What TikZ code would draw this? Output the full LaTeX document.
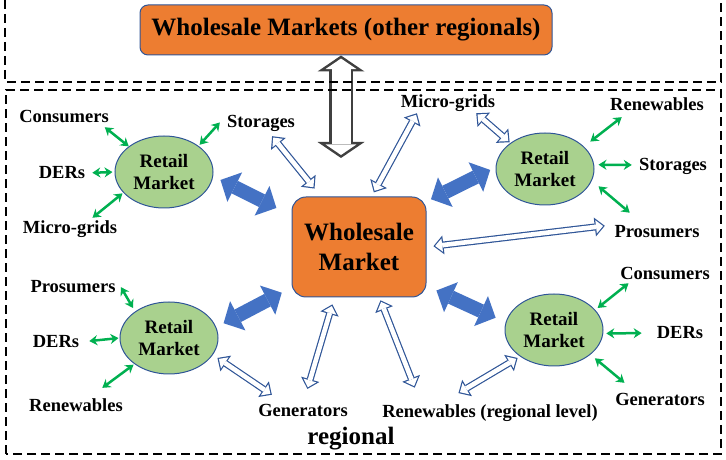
\documentclass[tikz,border=0pt]{standalone}
\usepackage{fontspec}
\setmainfont{Liberation Serif}
\usetikzlibrary{shapes.geometric,arrows.meta}

\definecolor{orangeboite}{HTML}{ED7D31}
\definecolor{bleufonce}{HTML}{2F5597}
\definecolor{bleu}{HTML}{4472C4}
\definecolor{vertclair}{HTML}{A9D18E}
\definecolor{vertfleche}{HTML}{00B050}
\definecolor{gris}{HTML}{404040}

% Flèche creuse : contour bleu puis intérieur blanc
\newcommand{\flechecreuse}[4]{%
  \pgfmathsetmacro\raccA{#3+1.74}\pgfmathsetmacro\raccB{#4+1.74}
  \draw[creuse, shorten <=#3pt, shorten >=#4pt] (#1) -- (#2);
  \draw[creuseint, shorten <=\raccA pt, shorten >=\raccB pt] (#1) -- (#2);
}

\begin{document}
\begin{tikzpicture}[x=1pt, y=1pt,
    cadre/.style={line width=1.8pt, dash pattern=on 9pt off 5pt},
    boite/.style={draw=bleufonce, line width=1pt, fill=orangeboite, rounded corners=8pt, font=\bfseries\fontsize{25}{30}\selectfont},
    marche/.style={ellipse, draw=bleufonce, line width=1pt, fill=vertclair, minimum width=98pt, minimum height=72pt, inner sep=0pt, align=center, font=\bfseries\fontsize{19}{22}\selectfont},
    acteur/.style={font=\bfseries\fontsize{18.5}{22}\selectfont, inner sep=1pt, text height=12pt, text depth=0pt},
    epaisse/.style={bleu, line width=14pt, {Triangle[line width=0pt,width=33pt,length=16pt]}-{Triangle[line width=0pt,width=33pt,length=16pt]}},
    creuse/.style={bleufonce, line width=7pt, {Triangle[line width=0pt,width=19pt,length=10pt]}-{Triangle[line width=0pt,width=19pt,length=10pt]}},
    creuseint/.style={white, line width=4.6pt, {Triangle[line width=0pt,width=13.4pt,length=7.06pt]}-{Triangle[line width=0pt,width=13.4pt,length=7.06pt]}},
    grise/.style={gris, line width=24pt, {Triangle[line width=0pt,width=47pt,length=16pt]}-{Triangle[line width=0pt,width=47pt,length=16pt]}},
    griseint/.style={white, line width=19pt, {Triangle[line width=0pt,width=30.8pt,length=10.5pt]}-{Triangle[line width=0pt,width=30.8pt,length=10.5pt]}},
    vert/.style={vertfleche, line width=2.5pt, {Stealth[length=8pt,width=10pt]}-{Stealth[length=8pt,width=10pt]}}]
    \useasboundingbox (0,0) rectangle (726,460);

    % Marchés de gros
    \node[boite, minimum width=412pt, minimum height=50pt] (topws) at (346,430) {Wholesale Markets (other regionals)};
    \node[boite, rounded corners=14pt, minimum width=134pt, minimum height=100pt, align=center] (ws) at (359,213) {Wholesale\\Market};

    % Marchés de détail
    \node[marche] (retA) at (164,288) {Retail\\Market};
    \node[marche] (retB) at (545,291) {Retail\\Market};
    \node[marche] (retC) at (169,122) {Retail\\Market};
    \node[marche] (retD) at (554,130) {Retail\\Market};

    % Acteurs
    \foreach \nom/\x/\y/\texte in {consA/64/343/Consumers, dersA/62/287/DERs, mgA/70/232/Micro-grids, stoA/261/338/Storages,
        mgB/448/358/Micro-grids, renB/657/355/Renewables, stoB/673/295/Storages, proB/657/228/Prosumers,
        proC/73/173/Prosumers, dersC/56/118/DERs, renC/76/54/Renewables, genC/303/49/Generators,
        consD/665/186/Consumers, dersD/680/127/DERs, genD/660/60/Generators, renD/490/48/{Renewables (regional level)}}
        \node[acteur] (\nom) at (\x,\y) {\texte};
    \node[font=\bfseries\fontsize{25}{30}\selectfont, anchor=base] (regional) at (351,15) {regional};

    % Flèches vertes autour des marchés de détail
    \foreach \de/\ve/\sa/\sb in {retA.144/consA.-11/0/4.8, retA.37/stoA.170/1.5/9, retA.west/dersA.east/2/6, retA.207/mgA.21/1/4.8,
        retB.30/renB.194/8/8.1, retB.5/stoB.west/4.3/6.1, retB.-14/proB.151/8.7/18.7,
        retC.142/proC.north east/4/8.5, retC.west/dersC.east/1/9, retC.217/renC.32/1/18.4,
        retD.26/consD.192/3/3.3, retD.-4/dersD.west/3/14, retD.-34/genD.163/5.7/15.6}
        \draw[vert, shorten <=\sa pt, shorten >=\sb pt] (\de) -- (\ve);

    % Flèches pleines détail - gros
    \draw[epaisse, shorten <=8.2pt, shorten >=16.9pt] (retA.-5) -- (ws.155);
    \draw[epaisse, shorten <=6pt, shorten >=5pt] (retB.178) -- (ws.34);
    \draw[epaisse, shorten <=8.3pt, shorten >=11pt] (retC.13.5) -- (ws.211);
    \draw[epaisse, shorten <=10.9pt, shorten >=11pt] (ws.-30) -- (retD.171);

    % Flèches creuses
    \flechecreuse{stoA.-53}{ws.127}{9}{10.2}
    \flechecreuse{ws.76}{mgB.194}{4.7}{4.6}
    \flechecreuse{mgB.-17}{retB.143}{6.2}{1}
    \flechecreuse{ws.east}{proB.north west}{7}{8.6}
    \flechecreuse{retC.-21}{genC.158}{5.5}{16.1}
    \flechecreuse{genC.north}{ws.244}{15.5}{7.2}
    \flechecreuse{ws.-68}{renD.174}{3}{18.4}
    \flechecreuse{renD.172}{retD.218}{22.9}{2.8}

    % Liaison avec les autres régions
    \coordinate (sortie) at ([xshift=-5pt]topws.south);
    \coordinate (entree) at (341,302);
    \draw[grise] (sortie) -- (entree);
    \draw[griseint, shorten <=3.03pt, shorten >=3.03pt] (sortie) -- (entree);

    % Cadres en pointillés
    \draw[cadre] (5,460) -- (5,378) -- (721,378) -- (721,460);
    \draw[cadre] (6,6) rectangle (721,370);
\end{tikzpicture}
\end{document}
